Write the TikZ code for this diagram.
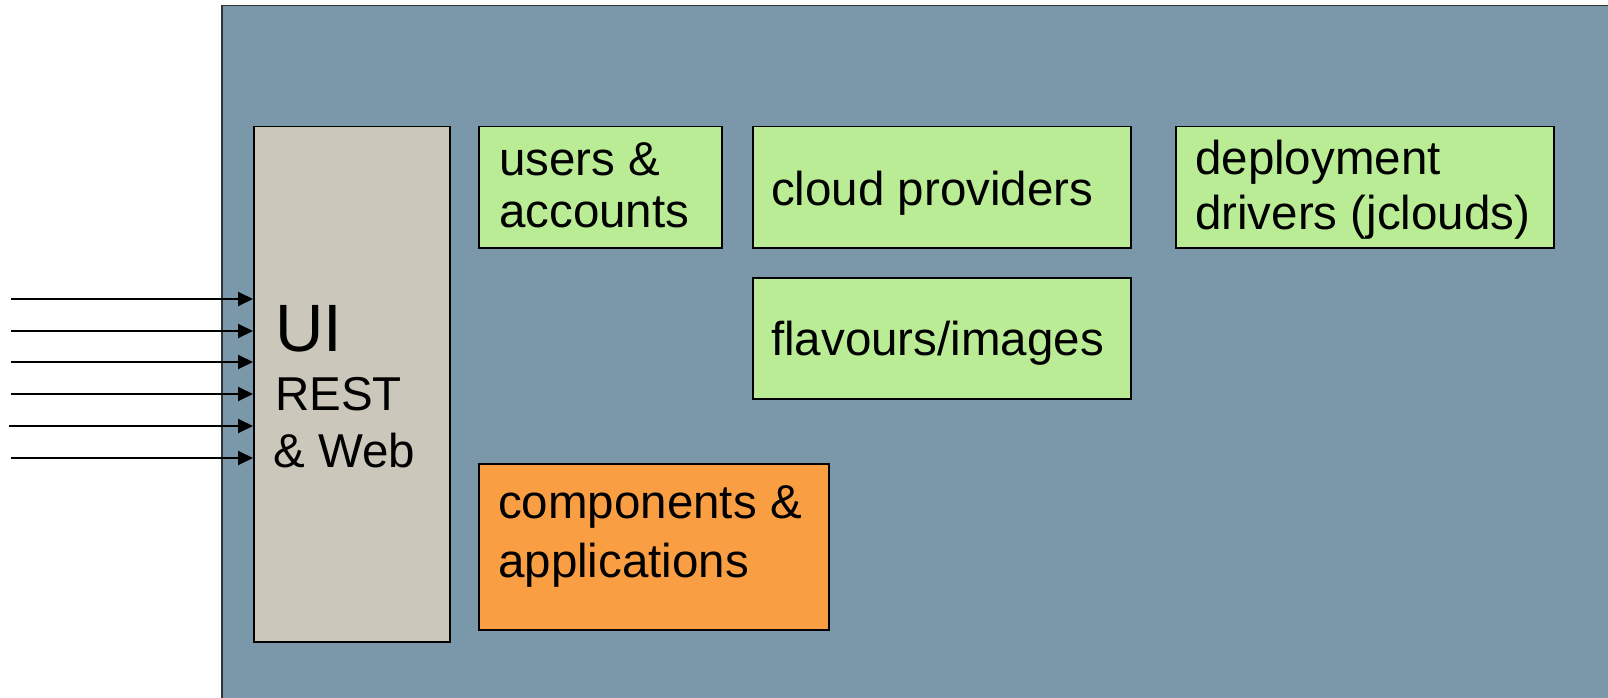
\documentclass[tikz,border=0pt]{standalone}
\usepackage{fontspec}
\setmainfont{Liberation Sans}
\usetikzlibrary{arrows.meta}

\definecolor{slate}{RGB}{123,152,171}
\definecolor{stone}{RGB}{203,199,186}
\definecolor{leaf}{RGB}{185,236,148}
\definecolor{amber}{RGB}{250,158,68}

\tikzset{
  module/.style={draw=black, line width=1.5pt, anchor=north west, inner sep=0pt},
  label/.style={anchor=base west, inner sep=0pt, font=\fontsize{47.5}{52}\selectfont},
  biglabel/.style={anchor=base west, inner sep=0pt, font=\fontsize{67}{70}\selectfont},
  feed/.style={line width=2pt, -{Triangle[length=15pt,width=14pt]}}
}

\begin{document}
\begin{tikzpicture}[x=1pt, y=-1pt]
  \useasboundingbox (0,0) rectangle (1608,698);

  % enclosing system area
  \node[module, fill=slate, draw=black!80, minimum width=1420pt, minimum height=720pt] (system) at (221,5) {};

  % front end
  \node[module, fill=stone, minimum width=196pt, minimum height=515pt] (ui) at (253,126) {};
  \node[biglabel] (uiA) at (275,351) {UI};
  \node[label] (uiB) at (275,410) {REST};
  \node[label] (uiC) at (273,467) {\& Web};

  % service modules
  \node[module, fill=leaf, minimum width=243pt, minimum height=121pt] (users) at (478,126) {};
  \node[label] (usersA) at (499,175) {users \&};
  \node[label] (usersB) at (499,227) {accounts};

  \node[module, fill=leaf, minimum width=378pt, minimum height=121pt] (cloud) at (752,126) {};
  \node[label] (cloudA) at (771,205) {cloud providers};

  \node[module, fill=leaf, minimum width=378pt, minimum height=121pt] (deploy) at (1175,126) {};
  \node[label] (deployA) at (1195,174) {deployment};
  \node[label] (deployB) at (1195,229) {drivers (jclouds)};

  \node[module, fill=leaf, minimum width=378pt, minimum height=121pt] (flavour) at (752,277) {};
  \node[label] (flavourA) at (771,355) {flavours/images};

  \node[module, fill=amber, minimum width=350pt, minimum height=166pt] (comp) at (478,463) {};
  \node[label] (compA) at (498,518) {components \&};
  \node[label] (compB) at (498,577) {applications};

  % incoming requests
  \foreach \i/\y/\x in {1/299/11, 2/331/11, 3/362/11, 4/394/11, 5/426/9, 6/458/11} {
    \coordinate (in\i) at (\x,\y);
    \draw[feed] (in\i) -- (in\i -| ui.west);
  }
\end{tikzpicture}
\end{document}
